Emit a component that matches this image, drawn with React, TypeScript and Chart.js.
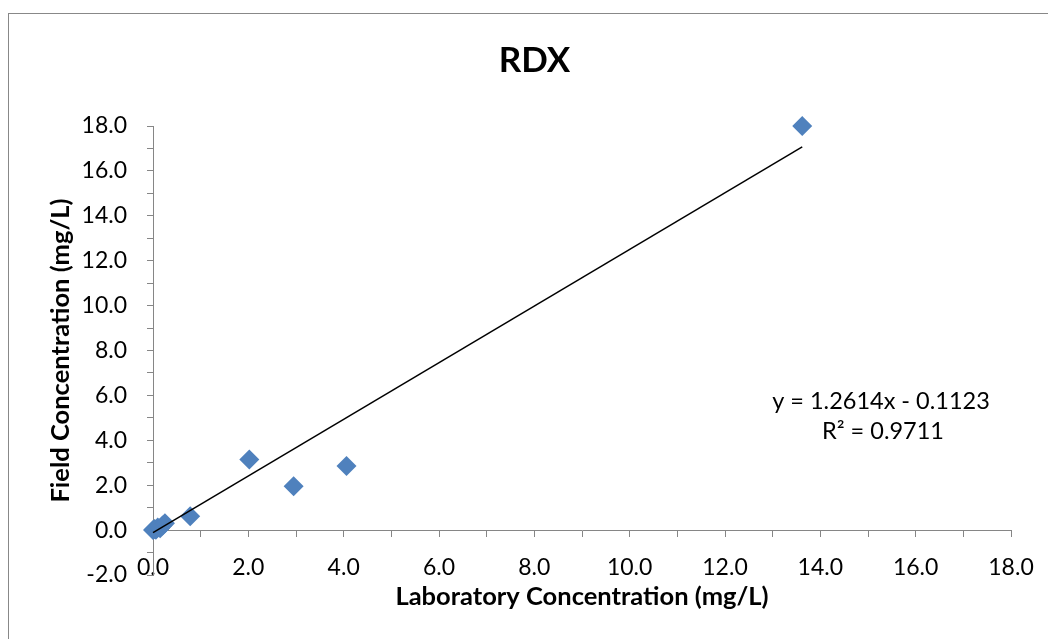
import React, { useEffect, useRef } from 'react';
import { Chart, registerables } from 'chart.js';

Chart.register(...registerables);

// ---- data ----
const labConcentration = [0.0, 0.03, 0.06, 0.1, 0.15, 0.2, 0.25, 0.78, 2.02, 2.95, 4.06, 13.62];
const fieldConcentration = [0.0, 0.05, 0.02, 0.12, 0.08, 0.2, 0.3, 0.62, 3.15, 1.95, 2.85, 18.0];

const trendSlope = 1.2614;
const trendIntercept = -0.1123;
const trendR2 = 0.9711;

const xTickValues = [0, 2, 4, 6, 8, 10, 12, 14, 16, 18];
const yTickValues = [-2, 0, 2, 4, 6, 8, 10, 12, 14, 16, 18];

const chartTitle = 'RDX';
const xAxisTitle = 'Laboratory Concentration (mg/L)';
const yAxisTitle = 'Field Concentration (mg/L)';

const FONT = 'Lato';

export default function App() {
  const ref = useRef<HTMLCanvasElement>(null);

  useEffect(() => {
    const canvas = ref.current;
    if (!canvas) return;

    const points = labConcentration.map((x, i) => ({ x, y: fieldConcentration[i] }));
    const xMin = Math.min(...labConcentration);
    const xMax = Math.max(...labConcentration);
    const trend = [
      { x: xMin, y: trendSlope * xMin + trendIntercept },
      { x: xMax, y: trendSlope * xMax + trendIntercept },
    ];

    const eqLine1 = `y = ${trendSlope.toFixed(4)}x - ${Math.abs(trendIntercept).toFixed(4)}`;
    const eqLine2 = `R² = ${trendR2.toFixed(4)}`;

    const framePlugin = {
      id: 'frame',
      beforeDraw(c: any) {
        const ctx = c.ctx;
        ctx.save();
        ctx.fillStyle = '#ffffff';
        ctx.fillRect(0, 0, c.width, c.height);
        ctx.strokeStyle = '#888888';
        ctx.lineWidth = 1;
        ctx.strokeRect(0.5, 5.5, c.width + 40, c.height + 40);
        ctx.restore();
      },
    };

    const equationPlugin = {
      id: 'equation',
      afterDatasetsDraw(c: any) {
        const ctx = c.ctx;
        ctx.save();
        ctx.fillStyle = '#000000';
        ctx.font = `23.5px ${FONT}`;
        ctx.textAlign = 'center';
        ctx.textBaseline = 'alphabetic';
        ctx.fillText(eqLine1, 873, 401);
        ctx.fillText(eqLine2, 875, 431);
        ctx.restore();
      },
    };

    const axisColor = '#868686';

    const chart = new Chart(canvas, {
      type: 'scatter',
      data: {
        datasets: [
          {
            type: 'line',
            label: 'trend',
            data: trend,
            borderColor: '#000000',
            borderWidth: 1.5,
            pointRadius: 0,
            fill: false,
            tension: 0,
            clip: false,
          } as any,
          {
            label: 'RDX',
            data: points,
            pointStyle: 'rectRot',
            pointRadius: 10,
            pointHoverRadius: 10,
            backgroundColor: '#4F81BD',
            borderColor: '#4F81BD',
            borderWidth: 0,
            clip: false,
          } as any,
        ],
      },
      options: {
        responsive: false,
        animation: false,
        devicePixelRatio: 1,
        layout: { padding: { left: 50, right: 50, top: 0, bottom: 64 } },
        plugins: {
          legend: { display: false },
          tooltip: { enabled: false },
          title: {
            display: true,
            text: chartTitle,
            color: '#000000',
            font: { family: FONT, size: 35, weight: 'bold' },
            padding: { top: 32, bottom: 44 },
          },
        },
        scales: {
          x: {
            type: 'linear',
            position: { y: 0 } as any,
            min: 0,
            max: 18,
            ticks: {
              stepSize: 1,
              autoSkip: false,
              maxRotation: 0,
              padding: 18,
              color: '#000000',
              font: { family: FONT, size: 23 },
              callback: (v: any) => (xTickValues.includes(Number(v)) ? Number(v).toFixed(1) : ''),
            },
            grid: { display: true, drawOnChartArea: false, drawTicks: true, tickLength: 6, color: axisColor },
            border: { display: true, color: axisColor, width: 1 },
            title: {
              display: true,
              text: xAxisTitle,
              color: '#000000',
              font: { family: FONT, size: 25.5, weight: 'bold' },
              padding: { top: 0, bottom: -18 },
            },
            afterFit: (s: any) => {
              s.height = 64;
            },
          },
          y: {
            type: 'linear',
            position: 'left',
            min: -2,
            max: 18,
            ticks: {
              stepSize: 1,
              autoSkip: false,
              padding: 20,
              color: '#000000',
              font: { family: FONT, size: 23 },
              callback: (v: any) => (yTickValues.includes(Number(v)) ? Number(v).toFixed(1) : ''),
            },
            grid: { display: true, drawOnChartArea: false, drawTicks: true, tickLength: 6, color: axisColor },
            border: { display: true, color: axisColor, width: 1 },
            title: {
              display: true,
              text: yAxisTitle,
              color: '#000000',
              font: { family: FONT, size: 25.5, weight: 'bold' },
              padding: { top: -13, bottom: 0 },
            },
            afterFit: (s: any) => {
              s.width = 95;
            },
          },
        },
      },
      plugins: [framePlugin, equationPlugin],
    });

    return () => chart.destroy();
  }, []);

  return (
    <div style={{ position: 'fixed', left: 8, top: 8, width: 1040, height: 631, overflow: 'hidden' }}>
      <canvas ref={ref} width={1053} height={631} style={{ display: 'block', width: 1053, height: 631 }} />
    </div>
  );
}
